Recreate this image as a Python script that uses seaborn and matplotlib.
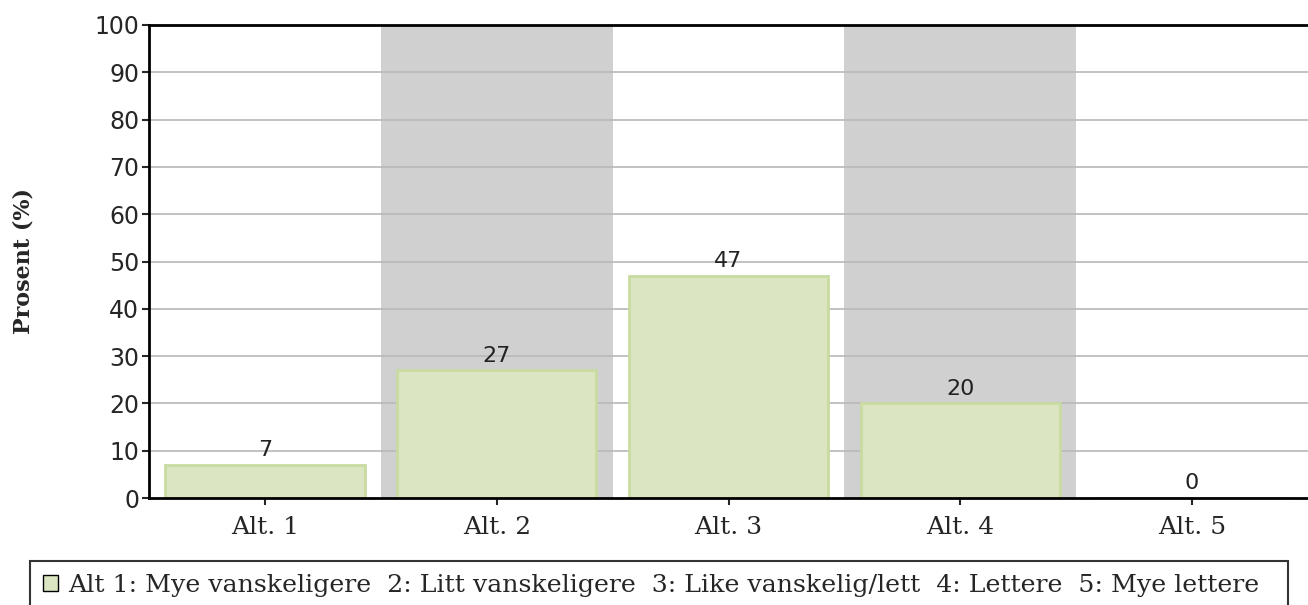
import pandas as pd
import seaborn as sns
import matplotlib.pyplot as plt
from matplotlib.patches import Patch

categories = ["Alt. 1", "Alt. 2", "Alt. 3", "Alt. 4", "Alt. 5"]
values = [7, 27, 47, 20, 0]
yticks = [0, 10, 20, 30, 40, 50, 60, 70, 80, 90, 100]
legend_text = ("Alt 1: Mye vanskeligere  2: Litt vanskeligere  "
               "3: Like vanskelig/lett  4: Lettere  5: Mye lettere")

df = pd.DataFrame({"alt": categories, "prosent": values})

sns.set_style("white")
plt.rcParams['font.family'] = ['DejaVu Sans']

fig = plt.figure(figsize=(13.08, 6.05), dpi=100)
ax = fig.add_axes([149 / 1308, 1 - 498 / 605, 1 - 149 / 1308, (498 - 25) / 605])

# alternating grey bands
for i in range(len(categories)):
    if i % 2 == 1:
        ax.axvspan(i - 0.5, i + 0.5, color="#d0d0d0", zorder=0, lw=0)

for t in yticks[1:-1]:
    ax.axhline(t, color="#b8b8b8", lw=1.2, zorder=1)

sns.barplot(data=df, x="alt", y="prosent", ax=ax, color="#dbe5c1",
            edgecolor="#c8dba0", linewidth=2, width=0.86, saturation=1, zorder=2)

for i, v in enumerate(values):
    ax.text(i, v + 1.0, str(v), ha="center", va="bottom", fontsize=16, color="#222222")

ax.set_xlim(-0.5, 4.5)
ax.set_ylim(0, 100)
ax.set_yticks(yticks)
ax.tick_params(axis="y", labelsize=17, length=5, width=1.5, direction="out", left=True, pad=2)
ax.tick_params(axis="x", labelsize=18, length=5, width=1.5, direction="out", bottom=True, pad=8)
for lab in ax.get_xticklabels():
    lab.set_family(["DejaVu Serif"])
ax.set_xlabel("")
ax.set_ylabel("Prosent (%)", fontsize=16, fontweight="bold", family=["DejaVu Serif"])
ax.yaxis.set_label_coords(-0.099, 0.5)

for side in ["left", "top", "bottom"]:
    ax.spines[side].set_color("black")
    ax.spines[side].set_linewidth(2)
ax.spines["right"].set_visible(False)

handle = Patch(facecolor="#dbe5c1", edgecolor="black", linewidth=1)
leg = fig.legend([handle], [legend_text + "  "], loc="upper left",
                 bbox_to_anchor=(30 / 1308, 1 - 561 / 605), frameon=True,
                 fancybox=False, edgecolor="black", handlelength=0.6, handleheight=0.6,
                 handletextpad=0.4, borderpad=0.5, borderaxespad=0,
                 prop={"family": ["DejaVu Serif"], "size": 18.2})
leg.get_frame().set_linewidth(1.5)

fig.savefig("out.png", dpi=100)
